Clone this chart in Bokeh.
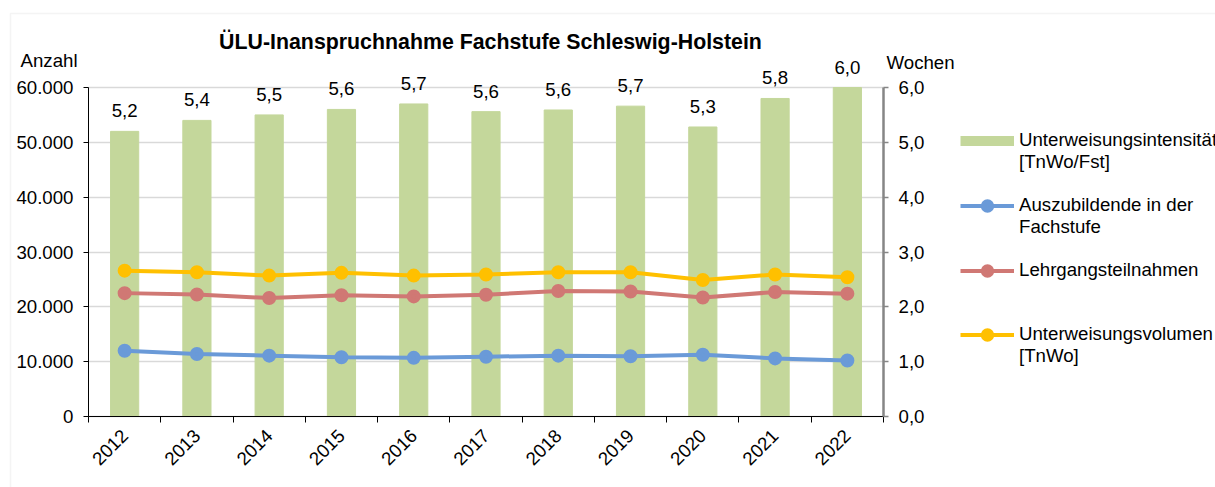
import math
from bokeh.plotting import figure
from bokeh.models import (Range1d, LinearAxis, FixedTicker, Legend, LegendItem,
                          ColumnDataSource, LabelSet, Label, Grid, BoxAnnotation,
                          CDSView, IndexFilter)
from bokeh.core.properties import value
from bokeh.embed import file_html
from bokeh.resources import INLINE

# ---------------- data ----------------
years = [2012, 2013, 2014, 2015, 2016, 2017, 2018, 2019, 2020, 2021, 2022]
intensitaet = [5.2, 5.4, 5.5, 5.6, 5.7, 5.56, 5.59, 5.66, 5.28, 5.8, 6.0]          # Wochen
auszubildende = [12000, 11400, 11100, 10800, 10700, 10900, 11100, 11000, 11250, 10600, 10200]
lehrgang = [22500, 22250, 21600, 22100, 21900, 22200, 22900, 22800, 21700, 22700, 22400]
volumen = [26600, 26300, 25700, 26200, 25700, 25900, 26300, 26300, 24900, 25900, 25400]
left_ticks = [0, 10000, 20000, 30000, 40000, 50000, 60000]
right_ticks = [0, 1, 2, 3, 4, 5, 6]

title_text = "ÜLU-Inanspruchnahme Fachstufe Schleswig-Holstein"
left_title = "Anzahl"
right_title = "Wochen"
series_names = ["Unterweisungsintensität", "Auszubildende in der",
                "Lehrgangsteilnahmen", "Unterweisungsvolumen"]
series_second_lines = ["[TnWo/Fst]", "Fachstufe", None, "[TnWo]"]

FONT = "Liberation Sans"
FS = "18.67px"
GREEN = "#C4D79B"
BLUE = "#6A9AD8"
RED = "#D07874"
YELLOW = "#FFC000"

# ---------------- layout (pixels) ----------------
W, H = 1215, 487
AX_L, AX_R, AX_T, AX_B = 88, 883, 87, 416     # plot area of the axes
x_lo, x_hi = years[0] - 0.5, years[-1] + 0.5
px_x = (AX_R - AX_L) / (x_hi - x_lo)
y_lo, y_hi = left_ticks[0], left_ticks[-1]
px_y = (AX_B - AX_T) / (y_hi - y_lo)
r_lo, r_hi = right_ticks[0], right_ticks[-1]
px_r = (AX_B - AX_T) / (r_hi - r_lo)

# the frame covers the whole canvas; axes are pinned with fixed_location
p = figure(width=W, height=H, output_backend="svg", toolbar_location=None, title=None,
           x_range=Range1d(x_lo - AX_L / px_x, x_lo + (W - AX_L) / px_x),
           y_range=Range1d(y_lo - (H - AX_B) / px_y, y_lo + AX_B / px_y),
           min_border=0, x_axis_type=None, y_axis_type=None)
p.extra_y_ranges = {"right": Range1d(r_lo - (H - AX_B) / px_r, r_lo + AX_B / px_r)}
p.outline_line_color = None
p.xgrid.visible = False
p.ygrid.visible = False

xaxis = LinearAxis(ticker=FixedTicker(ticks=years,
                                      minor_ticks=[y - 0.5 for y in years] + [x_hi]),
                   bounds=(x_lo, x_hi), fixed_location=y_lo)
xaxis.major_tick_in = 0
xaxis.major_tick_out = 0
xaxis.minor_tick_in = 0
xaxis.minor_tick_out = 6
xaxis.minor_tick_line_color = "black"
xaxis.axis_line_color = "black"
xaxis.major_label_orientation = math.pi / 4
xaxis.major_label_standoff = 10
xaxis.major_label_text_font = FONT
xaxis.major_label_text_font_size = FS
xaxis.major_label_text_color = "black"
p.add_layout(xaxis, "below")

yaxis = LinearAxis(ticker=FixedTicker(ticks=left_ticks), bounds=(y_lo, y_hi), fixed_location=x_lo)
yaxis.major_label_overrides = {t: f"{t:,}".replace(",", ".") for t in left_ticks}
yaxis.axis_line_color = "black"
yaxis.major_tick_line_color = "black"
yaxis.major_tick_in = 0
yaxis.major_tick_out = 5
yaxis.minor_tick_line_color = None
yaxis.major_label_standoff = 10
yaxis.major_label_text_font = FONT
yaxis.major_label_text_font_size = FS
yaxis.major_label_text_color = "black"
p.add_layout(yaxis, "left")

raxis = LinearAxis(y_range_name="right", ticker=FixedTicker(ticks=right_ticks),
                   bounds=(r_lo, r_hi), fixed_location=x_hi)
raxis.major_label_overrides = {t: f"{t:.1f}".replace(".", ",") for t in right_ticks}
raxis.axis_line_color = "#868686"
raxis.axis_line_width = 2.5
raxis.major_tick_line_color = "#868686"
raxis.major_tick_line_width = 1.5
raxis.major_tick_in = 0
raxis.major_tick_out = 5
raxis.minor_tick_line_color = None
raxis.major_label_standoff = 10
raxis.major_label_text_font = FONT
raxis.major_label_text_font_size = FS
raxis.major_label_text_color = "black"
p.add_layout(raxis, "right")

grid = Grid(dimension=1, ticker=FixedTicker(ticks=left_ticks), cross_bounds=(x_lo, x_hi))
grid.grid_line_color = "#D9D9D9"
grid.grid_line_width = 1.5
p.add_layout(grid)

# outer chart border (top and left edges visible in the window)
p.add_layout(BoxAnnotation(left=10, right=W + 50, top=H - 13, bottom=-50,
                           left_units="screen", right_units="screen",
                           top_units="screen", bottom_units="screen",
                           fill_alpha=0, line_color="#D9D9D9", line_width=1.5))

# bars
src = ColumnDataSource(dict(x=years, top=intensitaet,
                            lab=[f"{v:.1f}".replace(".", ",") for v in intensitaet]))
bars = p.vbar(x="x", top="top", width=0.39, source=src, y_range_name="right",
              fill_color=GREEN, line_color=GREEN)
labels = LabelSet(x="x", y="top", text="lab", source=src, y_range_name="right",
                  y_offset=14, text_align="center", text_baseline="alphabetic",
                  text_font=value(FONT), text_font_size=value(FS), text_color="black")
p.add_layout(labels)

# lines
rends = []
for vals, col in [(auszubildende, BLUE), (lehrgang, RED), (volumen, YELLOW)]:
    l = p.line(years, vals, line_color=col, line_width=4)
    s = p.scatter(years, vals, size=9, line_width=5, fill_color=col, line_color=col)
    rends.append([l, s])

# titles
p.add_layout(Label(x=490, y=H - 41, x_units="screen", y_units="screen", text=title_text,
                   text_align="center", text_baseline="middle", text_font=FONT,
                   text_font_size="21.33px", text_font_style="bold", text_color="black"))
p.add_layout(Label(x=20, y=H - 60, x_units="screen", y_units="screen", text=left_title,
                   text_align="left", text_baseline="alphabetic", text_font=FONT,
                   text_font_size=FS, text_color="black"))
p.add_layout(Label(x=886, y=H - 62, x_units="screen", y_units="screen", text=right_title,
                   text_align="left", text_baseline="alphabetic", text_font=FONT,
                   text_font_size=FS, text_color="black"))

# legend (entries + continuation lines, so that each symbol sits at its first text line)
# bar key: thick green stroke over a single bar row (a one-point line draws nothing in the plot)
one_row = CDSView(filter=IndexFilter(indices=[0]))
bar_key = p.line(x="x", y="top", source=src, view=one_row, y_range_name="right",
                 line_color=GREEN, line_width=10)
blank = p.line(x="x", y="top", source=src, view=CDSView(filter=IndexFilter(indices=[0])),
               y_range_name="right", line_alpha=0)
items = []
for name, second, rs in zip(series_names, series_second_lines, [[bar_key]] + rends):
    items.append(LegendItem(label=name, renderers=rs))
    items.append(LegendItem(label=second if second else " ", renderers=[blank]))
    items.append(LegendItem(label=" ", renderers=[blank]))
items = items[:-1]

legend = Legend(items=items, location=(960, 120))
legend.padding = 0
legend.margin = 0
legend.spacing = 0
legend.label_height = 21
legend.glyph_height = 21
legend.glyph_width = 54
legend.label_standoff = 5
legend.label_text_font = FONT
legend.label_text_font_size = FS
legend.label_text_color = "black"
legend.border_line_color = None
legend.background_fill_alpha = 0
p.add_layout(legend, "center")

open("out.html", "w").write(file_html(p, INLINE))
